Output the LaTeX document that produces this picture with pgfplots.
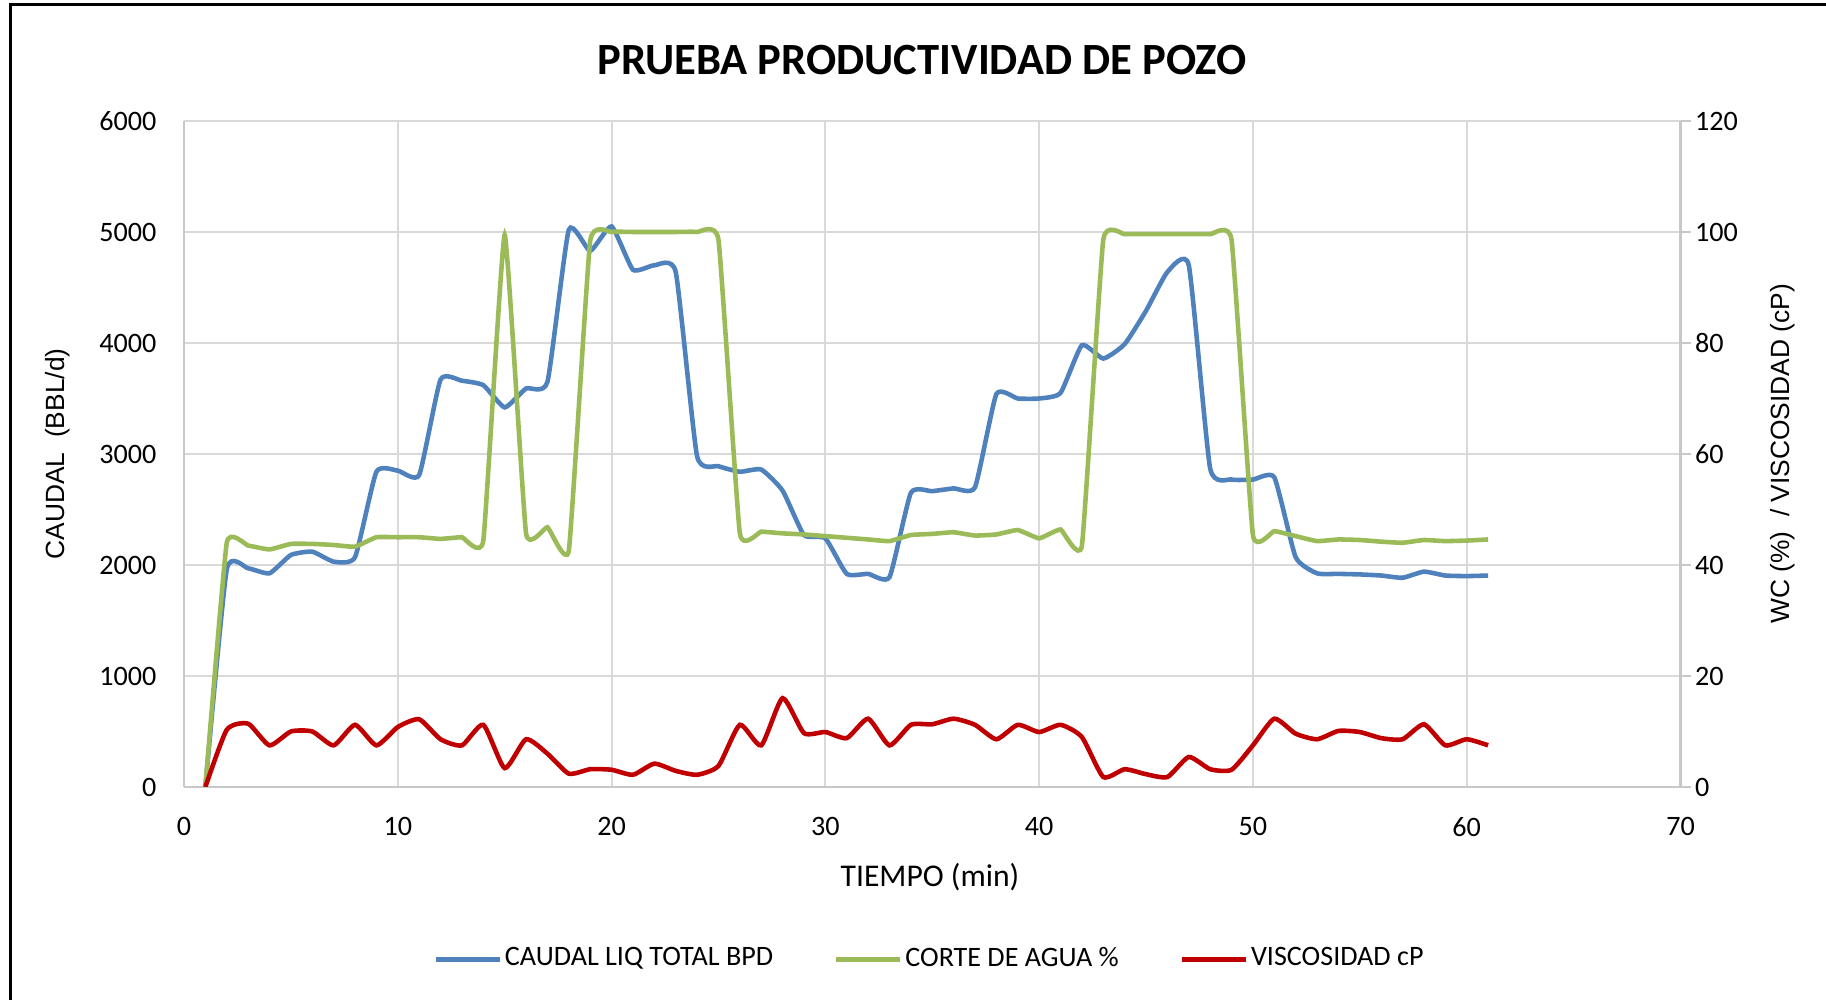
\documentclass[border=0pt]{standalone}
\usepackage{pgfplots}
\usepackage{pgfplotstable}
\pgfplotsset{compat=1.18}
\usepackage{fontspec}
\setmainfont{Carlito}
\newfontfamily\arialfont{Liberation Sans}
\definecolor{cblue}{HTML}{4F81BD}
\definecolor{cgreen}{HTML}{9BBB59}
\definecolor{cred}{HTML}{C00000}
\definecolor{gridc}{HTML}{D9D9D9}
\definecolor{axisc}{HTML}{C8C8C8}

\pgfplotstableread{
x q wc visc
1 0 0 0
2 1960 44.0 10.3
3 1970 43.5 11.4
4 1925 42.8 7.5
5 2090 43.8 10.0
6 2120 43.8 10.0
7 2030 43.6 7.5
8 2070 43.3 11.2
9 2840 45.0 7.5
10 2850 45.0 10.8
11 2810 45.0 12.2
12 3670 44.7 8.6
13 3660 45.0 7.5
14 3620 44.4 11.2
15 3420 99.5 3.4
16 3590 45.7 8.6
17 3650 46.8 6.0
18 5020 42.6 2.4
19 4830 98.4 3.2
20 5050 100.0 3.1
21 4660 100.0 2.2
22 4700 100.0 4.2
23 4640 100.0 2.9
24 2980 100.0 2.2
25 2890 98.6 3.8
26 2840 45.7 11.2
27 2860 46.0 7.5
28 2670 45.7 16.0
29 2270 45.5 9.7
30 2240 45.2 9.9
31 1920 44.9 8.8
32 1920 44.6 12.3
33 1890 44.3 7.5
34 2650 45.4 11.2
35 2665 45.6 11.3
36 2690 45.9 12.3
37 2700 45.3 11.2
38 3540 45.5 8.6
39 3500 46.3 11.2
40 3500 44.8 9.9
41 3550 46.4 11.2
42 3980 43.5 9.0
43 3860 98.6 1.8
44 3990 99.6 3.2
45 4290 99.6 2.3
46 4640 99.6 1.8
47 4700 99.6 5.4
48 2870 99.6 3.2
49 2770 98.6 3.1
50 2770 45.4 7.5
51 2790 46.1 12.3
52 2070 45.2 9.6
53 1925 44.3 8.6
54 1920 44.6 10.1
55 1915 44.5 9.9
56 1905 44.2 8.8
57 1885 44.0 8.6
58 1940 44.5 11.3
59 1905 44.3 7.5
60 1900 44.4 8.6
61 1905 44.6 7.5
}\datatable

\begin{document}
\begin{tikzpicture}[x=1cm,y=1cm]
\path[use as bounding box] (0,0) rectangle (18.26,10);
\draw[black, line width=0.3mm] (0.10,0) -- (0.10,9.95) -- (18.26,9.95);
\begin{axis}[
  at={(1.84cm,2.13cm)}, anchor=south west,
  scale only axis, width=14.965cm, height=6.66cm,
  xmin=0, xmax=70, ymin=0, ymax=6000,
  xtick={0,10,...,70}, ytick={0,1000,...,6000},
  axis x line*=bottom, axis y line*=left,
  axis line style={axisc, line width=0.6pt, -},
  grid=major, major grid style={gridc, line width=0.6pt},
  major tick length=0pt,
  tick label style={font=\fontsize{8}{9.6}\selectfont, text=black},
  /pgf/number format/assume math mode=true,
  /pgf/number format/1000 sep={},
  yticklabel style={inner sep=0pt, anchor=east, xshift=-0.27cm},
  xticklabel style={inner sep=0pt, anchor=north, yshift=-0.3cm},
]
\addplot[cblue, line width=1.3pt, smooth, tension=0.3] table[x=x,y=q]{\datatable};
\end{axis}
\begin{axis}[
  at={(1.84cm,2.13cm)}, anchor=south west,
  scale only axis, width=14.965cm, height=6.66cm,
  xmin=0, xmax=70, ymin=0, ymax=120, ytick={0,20,...,120},
  hide x axis, axis y line*=right,
  axis line style={axisc, line width=0.6pt, -},
  tick align=outside, major tick length=0.1cm,
  ytick style={axisc, line width=0.6pt},
  tick label style={font=\fontsize{8}{9.6}\selectfont, text=black},
  /pgf/number format/assume math mode=true,
  yticklabel style={inner sep=0pt, anchor=west, xshift=0.04cm},
  legend columns=3,
  legend style={at={(0.4985,-0.259)}, anchor=center, draw=none, fill=none,
    font=\fontsize{8}{9.6}\selectfont,
    /tikz/every even column/.append style={column sep=0.58cm},
    nodes={inner sep=0.8pt}},
  legend image code/.code={\draw[#1] (0cm,0cm) -- (0.64cm,0cm);},
]
\addlegendimage{cblue, line width=1.3pt}
\addlegendentry{CAUDAL LIQ TOTAL BPD}
\addplot[cgreen, line width=1.3pt, smooth, tension=0.22] table[x=x,y=wc]{\datatable};
\addlegendentry{CORTE DE AGUA \%}
\addplot[cred, line width=1.3pt, smooth, tension=0.35] table[x=x,y=visc]{\datatable};
\addlegendentry{VISCOSIDAD cP}
\end{axis}
\node[font=\fontsize{12.7}{15}\selectfont\bfseries] at (9.22,9.40) {PRUEBA PRODUCTIVIDAD DE POZO};
\node[font=\fontsize{9}{11}\selectfont] at (9.30,1.23) {TIEMPO (min)};
\node[font=\arialfont\fontsize{7.5}{9}\selectfont, rotate=90] at (0.58,5.46) {CAUDAL\ \ (BBL/d)};
\node[font=\arialfont\fontsize{7.5}{9}\selectfont, rotate=90] at (17.83,5.46) {WC (\%)\ \ / VISCOSIDAD (cP)};
\end{tikzpicture}
\end{document}
